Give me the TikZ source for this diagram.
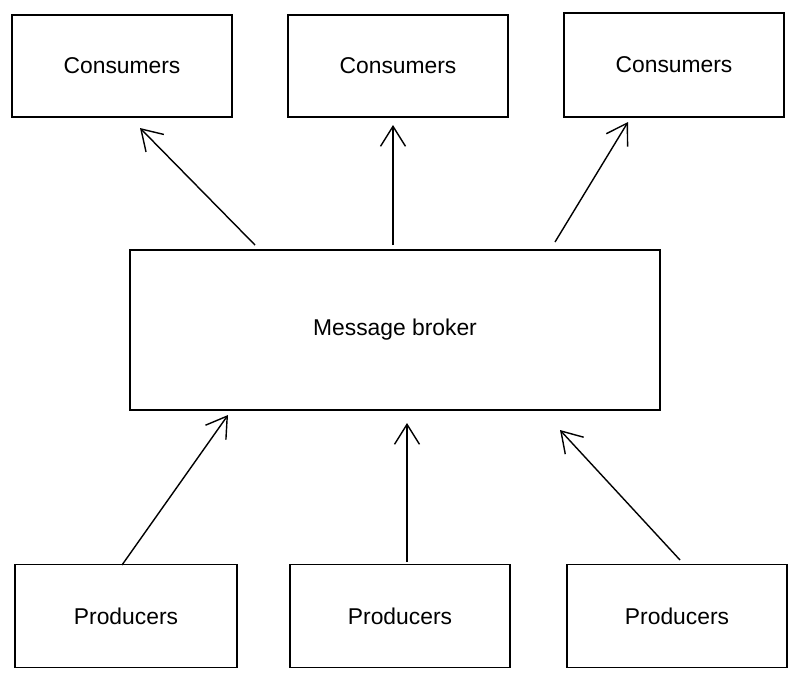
\documentclass[tikz,border=0pt]{standalone}
\usepackage{fontspec}
\setmainfont{Liberation Sans}
\usetikzlibrary{arrows.meta}

\begin{document}
\begin{tikzpicture}[
    x = 0.02cm, y = -0.02cm,
    box/.style = {draw, thick, inner sep = 0pt, font = \fontsize{13}{15}\selectfont},
    link/.style = {thick, -{Straight Barb[length=4mm, width=5mm]}}
  ]
  \useasboundingbox (0,0) rectangle (800,681);

  % Consumers
  \node[box, minimum width = 4.4cm, minimum height = 2.04cm] (cons1) at (122,66) {Consumers};
  \node[box, minimum width = 4.4cm, minimum height = 2.04cm] (cons2) at (398,66) {Consumers};
  \node[box, minimum width = 4.4cm, minimum height = 2.08cm] (cons3) at (674,65) {Consumers};

  % Broker
  \node[box, minimum width = 10.6cm, minimum height = 3.2cm] (broker) at (395,330) {Message broker};

  % Producers
  \node[box, minimum width = 4.44cm, minimum height = 2.06cm] (prod1) at (126,616) {Producers};
  \node[box, minimum width = 4.4cm, minimum height = 2.06cm] (prod2) at (400,616) {Producers};
  \node[box, minimum width = 4.4cm, minimum height = 2.06cm] (prod3) at (677,616) {Producers};

  % Connectors
  \coordinate (b1) at (255,245);
  \coordinate (b2) at (393,245);
  \coordinate (b3) at (555,242);
  \coordinate (c1) at (140,128);
  \coordinate (c2) at (393,125);
  \coordinate (c3) at (628,122);
  \draw[link] (b1) -- (c1);
  \draw[link] (b2) -- (c2);
  \draw[link] (b3) -- (c3);

  \coordinate (p1) at (122,565);
  \coordinate (p2) at (407,562);
  \coordinate (p3) at (680,560);
  \coordinate (t1) at (228,415);
  \coordinate (t2) at (407,423);
  \coordinate (t3) at (560,430);
  \draw[link] (p1) -- (t1);
  \draw[link] (p2) -- (t2);
  \draw[link] (p3) -- (t3);
\end{tikzpicture}
\end{document}
